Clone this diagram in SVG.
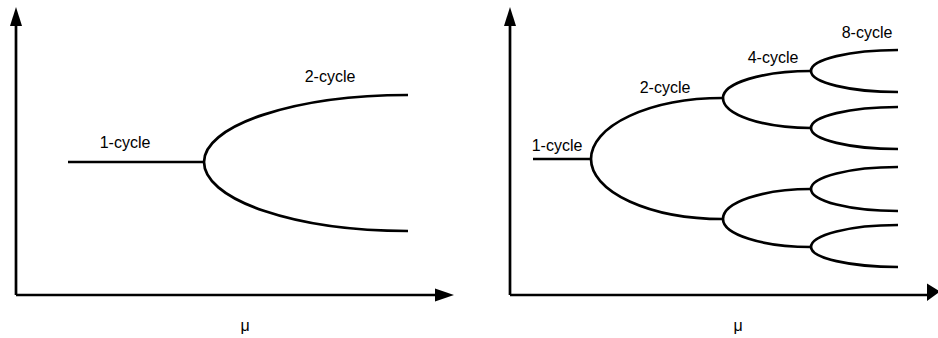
<svg xmlns="http://www.w3.org/2000/svg" width="938" height="338" viewBox="0 0 938 338">
<style>
.ln{fill:none;stroke:#000;stroke-width:2.7}
.ax{fill:none;stroke:#000;stroke-width:2.7}
.hd{fill:#000;stroke:none}
text{font-family:"Liberation Sans",Arial,sans-serif;font-size:16px;fill:#000;text-anchor:middle}
</style>
<rect width="938" height="338" fill="#fff"/>
<g id="left-axes">
<path class="ax" d="M16,295 V24 M16,295 H436"/>
<path class="hd" d="M16,7 L10,26 L22,26 Z"/>
<path class="hd" d="M454,295 L435,288.5 L435,301.5 Z"/>
<text x="245" y="331">μ</text>
</g>
<g id="left-curves">
<path class="ln" d="M68,162 H204"/>
<path class="ln" d="M408,95 A204,67 0 0 0 204,162 A204,69 0 0 0 408,231"/>
<text x="125" y="148">1-cycle</text>
<text x="330" y="82">2-cycle</text>
</g>
<g id="right-axes">
<path class="ax" d="M510,295 V24 M510,295 H929"/>
<path class="hd" d="M510,7 L504,26 L516,26 Z"/>
<path class="hd" d="M940,291.5 L927,283.5 L927,301 Z"/>
<text x="738" y="331">μ</text>
</g>
<g id="right-curves">
<path class="ln" d="M533,159 H591"/>
<path class="ln" d="M723,98 A132,61 0 0 0 591,159 A132,60 0 0 0 723,219"/>
<path class="ln" d="M811,71 A88,27 0 0 0 723,98 A88,30 0 0 0 811,128"/>
<path class="ln" d="M811,189 A88,30 0 0 0 723,219 A88,28 0 0 0 811,247"/>
<path class="ln" d="M898,50 A87,21 0 0 0 811,71 A87,21 0 0 0 898,92"/>
<path class="ln" d="M898,107 A87,21 0 0 0 811,128 A87,21 0 0 0 898,149"/>
<path class="ln" d="M898,167 A87,22 0 0 0 811,189 A87,22 0 0 0 898,211"/>
<path class="ln" d="M898,225 A87,22 0 0 0 811,247 A87,20 0 0 0 898,267"/>
<text x="557" y="151">1-cycle</text>
<text x="665" y="93">2-cycle</text>
<text x="773" y="63">4-cycle</text>
<text x="867" y="38">8-cycle</text>
</g>
</svg>
